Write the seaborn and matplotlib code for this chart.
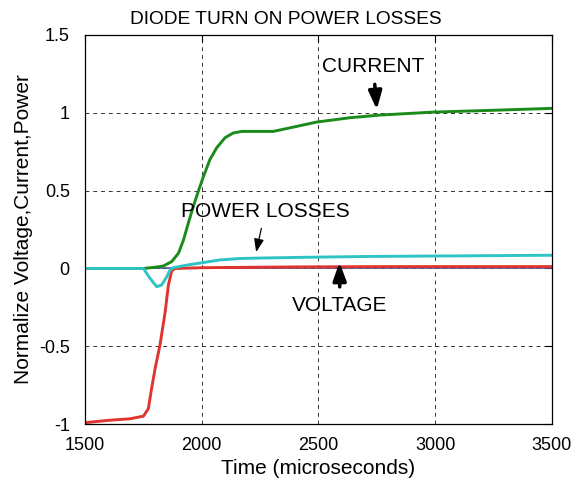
import numpy as np
import pandas as pd
import matplotlib
matplotlib.use("Agg")
import matplotlib.pyplot as plt
import seaborn as sns

# ---- data ----
t_current = [1500, 1650, 1750, 1800, 1835, 1871, 1900, 1921, 1942, 1964, 1985, 2007, 2035, 2064,
             2100, 2135, 2171, 2250, 2306, 2378, 2492, 2635, 2763, 2992, 3234, 3500]
current = [0.0, 0.0, 0.0, 0.008, 0.016, 0.044, 0.098, 0.18, 0.29, 0.40, 0.495, 0.59, 0.70, 0.775,
           0.84, 0.87, 0.88, 0.88, 0.88, 0.903, 0.94, 0.968, 0.985, 1.004, 1.015, 1.028]

t_voltage = [1500, 1600, 1693, 1750, 1771, 1785, 1800, 1821, 1843, 1857, 1871, 1885, 2000, 2400, 2800, 3500]
voltage = [-0.99, -0.975, -0.965, -0.948, -0.90, -0.77, -0.643, -0.49, -0.28, -0.106, -0.016, 0.0,
           0.005, 0.01, 0.012, 0.012]

t_power = [1500, 1700, 1750, 1778, 1807, 1828, 1850, 1864, 1878, 1930, 1993, 2078, 2164, 2250,
           2455, 2700, 3000, 3405, 3500]
power = [0.0, 0.0, 0.0, -0.063, -0.117, -0.106, -0.053, -0.01, 0.005, 0.02, 0.035, 0.055, 0.064, 0.067,
         0.072, 0.077, 0.08, 0.084, 0.085]

t_zero = [1500, 3500]
zero = [0.0, 0.0]

x_ticks = [1500, 2000, 2500, 3000, 3500]
y_ticks = [-1, -0.5, 0, 0.5, 1, 1.5]
y_tick_labels = ["-1", "-0.5", "0", "0.5", "1", "1.5"]

sns.set_theme(style="white")
plt.rcParams['font.family'] = ['Liberation Sans', 'DejaVu Sans']
plt.rcParams['text.color'] = 'black'
plt.rcParams['axes.labelcolor'] = 'black'
plt.rcParams['xtick.color'] = 'black'
plt.rcParams['ytick.color'] = 'black'

fig = plt.figure(figsize=(5.79, 4.91), dpi=100)
ax = fig.add_axes([0.147, 0.136, 0.806, 0.793])

sns.lineplot(x=t_zero, y=zero, ax=ax, color="#4a58a0", linewidth=1.2)
sns.lineplot(x=t_current, y=current, ax=ax, color="#1a8a1a", linewidth=2.1)
sns.lineplot(x=t_voltage, y=voltage, ax=ax, color="#e0342e", linewidth=2.1)
sns.lineplot(x=t_power, y=power, ax=ax, color="#2ec4c4", linewidth=2.1)

ax.set_xlim(1500, 3500)
ax.set_ylim(-1, 1.5)
ax.set_xticks(x_ticks)
ax.set_xticklabels([str(v) for v in x_ticks])
ax.set_yticks(y_ticks)
ax.set_yticklabels(y_tick_labels)
ax.tick_params(axis='both', direction='in', top=True, right=True, labelsize=13,
               length=5, width=0.8, colors='black', labelcolor='black')
ax.tick_params(axis='x', pad=9)
ax.tick_params(axis='y', pad=11)
ax.grid(True, color='black', linestyle=(0, (4, 4)), linewidth=0.7, alpha=0.8)
for s in ax.spines.values():
    s.set_visible(True)
    s.set_color('black')
    s.set_linewidth(0.9)

ax.set_title("DIODE TURN ON POWER LOSSES", fontsize=13.8, pad=8, color='black', x=0.43)
ax.set_xlabel("Time (microseconds)", fontsize=15, labelpad=4, color='black')
ax.set_ylabel("Normalize Voltage,Current,Power", fontsize=15, labelpad=4, color='black')

ax.annotate("CURRENT", xy=(2750, 1.02), xytext=(2735, 1.30), fontsize=15, color='black',
            ha='center', va='center',
            arrowprops=dict(arrowstyle='-|>,head_width=0.4,head_length=1.1', color='black',
                            lw=2.5, mutation_scale=10, shrinkA=4, shrinkB=0))
ax.annotate("POWER LOSSES", xy=(2233, 0.105), xytext=(2271, 0.366), fontsize=15, color='black',
            ha='center', va='center',
            arrowprops=dict(arrowstyle='-|>,head_width=0.3,head_length=0.8', color='black',
                            lw=0.9, mutation_scale=10, shrinkA=3, shrinkB=0))
ax.annotate("VOLTAGE", xy=(2590, 0.04), xytext=(2592, -0.236), fontsize=15, color='black',
            ha='center', va='center',
            arrowprops=dict(arrowstyle='-|>,head_width=0.4,head_length=1.1', color='black',
                            lw=2.5, mutation_scale=10, shrinkA=4, shrinkB=0))

fig.savefig("out.png", dpi=100)
